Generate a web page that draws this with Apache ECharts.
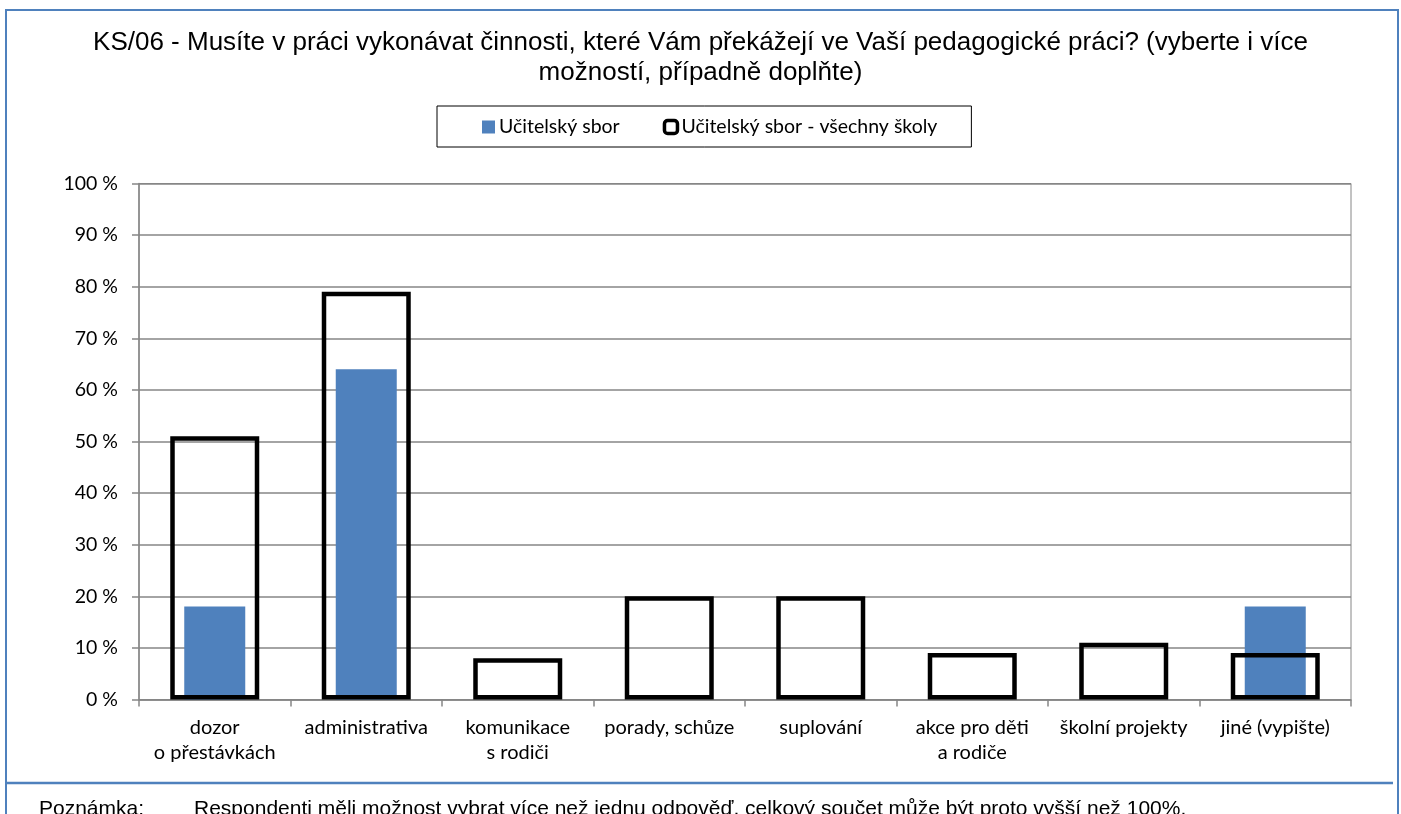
<!DOCTYPE html>
<html>
<head>
<meta charset="utf-8">
<script src="https://cdn.jsdelivr.net/npm/echarts@6/dist/echarts.min.js"></script>
<style>
html,body{margin:0;padding:0;background:#fff;}
#chart{width:1401px;height:814px;}
</style>
</head>
<body>
<div id="chart"></div>
<script>
const categories = ['dozor\no přestávkách','administrativa','komunikace\ns rodiči','porady, schůze','suplování','akce pro děti\na rodiče','školní projekty','jiné (vypište)'];
const seriesNames = ['Učitelský sbor','Učitelský sbor - všechny školy'];
const sborValues = [18, 64, 0, 0, 0, 0, 0, 18];
const vsechnyValues = [51, 79, 8, 20, 20, 9, 11, 9];
const yTicks = {min: 0, max: 100, interval: 10};
const titleText = 'KS/06 - Musíte v práci vykonávat činnosti, které Vám překážejí ve Vaší pedagogické práci? (vyberte i více\nmožností, případně doplňte)';
const noteLabel = 'Poznámka:';
const noteText = 'Respondenti měli možnost vybrat více než jednu odpověď, celkový součet může být proto vyšší než 100%.';

const chart = echarts.init(document.getElementById('chart'), null, {renderer:'canvas'});
const labelFont = 'Lato, "Noto Sans", sans-serif';
const gray = '#868686';

chart.setOption({
  animation: false,
  backgroundColor: '#fff',
  title: {
    text: titleText,
    left: 'center',
    top: 28,
    padding: 0,
    textStyle: {fontFamily: '"Liberation Sans", Arial, sans-serif', fontWeight: 'normal', fontSize: 26, lineHeight: 30, color: '#000', align: 'center'}
  },
  legend: {
    left: 437,
    top: 106,
    padding: [11, 34, 10, 45],
    borderColor: '#000',
    borderWidth: 1,
    itemWidth: 13,
    itemHeight: 13,
    itemGap: 43,
    textStyle: {fontFamily: labelFont, fontSize: 19.5, color: '#000', padding: [0,0,0,-1]},
    data: [
      {name: seriesNames[0], icon: 'rect', itemStyle: {color: '#4f81bd', borderWidth: 0}},
      {name: seriesNames[1], icon: 'roundRect', itemStyle: {color: '#fff', borderColor: '#000', borderWidth: 3.5}}
    ]
  },
  grid: {
    left: 139, right: 50, top: 183.5, bottom: 114.5,
    show: true, borderColor: gray, borderWidth: 1, backgroundColor: 'transparent'
  },
  xAxis: [
    {
      type: 'category', data: categories,
      axisLine: {lineStyle: {color: gray, width: 1.5}},
      axisTick: {show: true, length: 7, lineStyle: {color: gray, width: 1.5}},
      axisLabel: {interval: 0, margin: 16, fontFamily: labelFont, fontSize: 20, lineHeight: 25, color: '#000'}
    },
    {
      type: 'category', data: categories, show: false, position: 'bottom'
    }
  ],
  yAxis: {
    type: 'value', min: yTicks.min, max: yTicks.max, interval: yTicks.interval,
    axisLine: {show: true, lineStyle: {color: gray, width: 1.5}},
    axisTick: {show: true, length: 7, lineStyle: {color: gray, width: 1.5}},
    axisLabel: {formatter: '{value} %', margin: 21, fontFamily: labelFont, fontSize: 19.5, color: '#000'},
    splitLine: {show: true, lineStyle: {color: gray, width: 1.5}}
  },
  series: [
    {
      name: seriesNames[0], type: 'bar', xAxisIndex: 0, data: sborValues,
      barWidth: 61, itemStyle: {color: '#4f81bd'}, z: 2
    },
    {
      name: seriesNames[1], type: 'bar', xAxisIndex: 1, data: vsechnyValues,
      barWidth: 89, itemStyle: {color: 'rgba(0,0,0,0)', borderColor: '#000', borderWidth: 4.5}, z: 3
    }
  ],
  graphic: [
    {type: 'rect', shape: {x: 6, y: 10, width: 1392, height: 830}, style: {fill: 'none', stroke: '#4f81bd', lineWidth: 2}, silent: true, z: 10},
    {type: 'line', shape: {x1: 7, y1: 783, x2: 1393, y2: 783}, style: {stroke: '#4f81bd', lineWidth: 2.5}, silent: true, z: 10},
    {type: 'text', left: 39, top: 799, style: {text: noteLabel, font: '21px "Liberation Sans", Arial, sans-serif', fill: '#000'}, z: 10},
    {type: 'text', left: 194, top: 799, style: {text: noteText, font: '21px "Liberation Sans", Arial, sans-serif', fill: '#000'}, z: 10}
  ]
});
</script>
</body>
</html>
